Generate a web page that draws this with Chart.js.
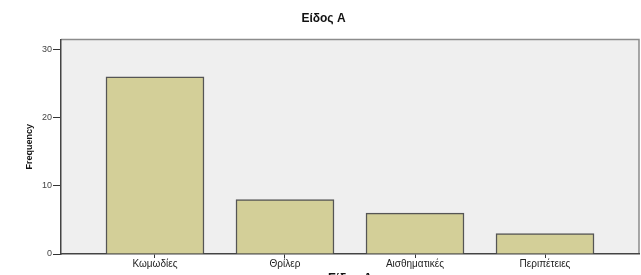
<!DOCTYPE html>
<html>
<head>
<meta charset="utf-8">
<script src="https://cdn.jsdelivr.net/npm/chart.js@4"></script>
<style>
  html, body { margin: 0; padding: 0; background: #fff; overflow: hidden; }
  #wrap { width: 641px; height: 288px; }
</style>
</head>
<body>
<div id="wrap"><canvas id="chart" width="641" height="288"></canvas></div>
<script>
// Data
const categories = ["Κωμωδίες", "Θρίλερ", "Αισθηματικές", "Περιπέτειες"];
const frequencies = [26, 8, 6, 3];
const yTicks = [0, 10, 20, 30];

const chartTitle = "Είδος Α";
const xTitle = "Είδος Α";
const yTitle = "Frequency";

const ctx = document.getElementById("chart");

// plot frame: grey panel with thin border on top/right
const framePlugin = {
  id: 'frame',
  beforeDraw(chart) {
    const a = chart.chartArea;
    const c = chart.ctx;
    c.save();
    c.fillStyle = '#efefef';
    c.fillRect(a.left, a.top, a.right - a.left, a.bottom - a.top);
    c.strokeStyle = '#8c8c8c';
    c.lineWidth = 1.5;
    c.beginPath();
    c.moveTo(a.left, a.top);
    c.lineTo(a.right, a.top);
    c.lineTo(a.right, a.bottom);
    c.stroke();
    c.restore();
  }
};

const points = categories.map((c, i) => ({ x: i, y: frequencies[i] }));

const config = {
  type: 'bar',
  data: {
    datasets: [{
      label: yTitle,
      data: points,
      backgroundColor: '#d3cf98',
      borderColor: '#555555',
      borderWidth: 1.5,
      borderSkipped: 'bottom',
      barThickness: 98
    }]
  },
  options: {
    responsive: false,
    animation: false,
    layout: { padding: { left: 8, right: 2 } },
    plugins: {
      legend: { display: false },
      tooltip: { enabled: false },
      title: {
        display: true,
        text: chartTitle,
        color: '#111',
        font: { family: 'Liberation Sans', size: 12, weight: 'bold' },
        padding: { top: 11, bottom: 14 }
      }
    },
    scales: {
      x: {
        type: 'linear',
        offset: false,
        min: -0.723,
        max: 3.723,
        afterBuildTicks: s => { s.ticks = categories.map((c, i) => ({ value: i })); },
        afterFit: s => { s.height = 34; },
        ticks: {
          callback: v => categories[v],
          color: '#222',
          font: { family: 'Liberation Sans', size: 10 },
          padding: 0,
          maxRotation: 0,
          autoSkip: false
        },
        grid: { offset: false, drawOnChartArea: false, tickLength: 4, color: '#333', lineWidth: 1 },
        border: { color: '#444', width: 1.5 },
        title: {
          display: true,
          text: xTitle,
          color: '#111',
          font: { family: 'Liberation Sans', size: 12, weight: 'bold' },
          padding: { top: 0, bottom: 2 }
        }
      },
      y: {
        min: 0,
        max: 31.5,
        afterBuildTicks: s => { s.ticks = yTicks.map(v => ({ value: v })); },
        afterFit: s => { s.width = 53; },
        ticks: {
          color: '#444',
          font: { family: 'Liberation Sans', size: 9 },
          padding: 1
        },
        grid: { drawOnChartArea: false, tickLength: 8, color: '#333', lineWidth: 1 },
        border: { color: '#444', width: 1.5 },
        title: {
          display: true,
          text: yTitle,
          color: '#111',
          font: { family: 'Liberation Sans Narrow, Liberation Sans', size: 9, weight: 'bold' },
          padding: { top: 16, bottom: 0 }
        }
      }
    }
  },
  plugins: [framePlugin]
};

const expenseChart = new Chart(ctx, config);
</script>
</body>
</html>
